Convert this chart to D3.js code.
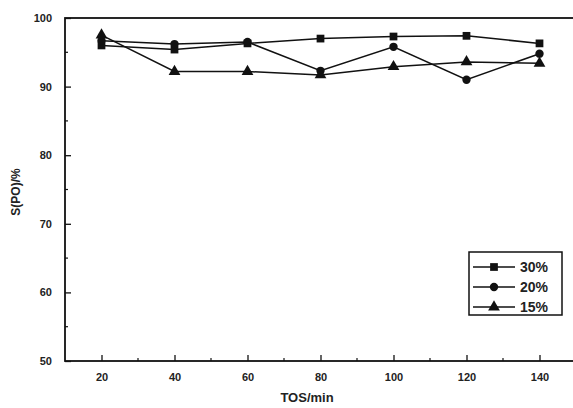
<!DOCTYPE html>
<html>
<head>
<meta charset="utf-8">
<script src="https://cdn.jsdelivr.net/npm/d3@7"></script>
<style>
  body { margin: 0; background: #fff; }
  text { font-family: Arial, "Liberation Sans", sans-serif; font-weight: bold; fill: #222; }
</style>
</head>
<body>
<script>
// data
const tos = [20, 40, 60, 80, 100, 120, 140];
const s30 = [96.0, 95.4, 96.3, 97.0, 97.3, 97.4, 96.3];
const s20 = [96.7, 96.2, 96.5, 92.3, 95.8, 91.0, 94.8];
const s15 = [97.5, 92.2, 92.2, 91.7, 92.9, 93.6, 93.4];
const seriesNames = ['30%', '20%', '15%'];
const xTicks = [20, 40, 60, 80, 100, 120, 140];
const yTicks = [50, 60, 70, 80, 90, 100];

const W = 573, H = 408;
const mLeft = 65, mRight = 576, mTop = 18, mBottom = 361;

const svg = d3.select('body').append('svg')
  .attr('width', W).attr('height', H);

const x = d3.scaleLinear().domain([10, 150]).range([mLeft, mRight]);
const y = d3.scaleLinear().domain([50, 100]).range([mBottom, mTop]);

// frame
svg.append('rect')
  .attr('x', mLeft).attr('y', mTop)
  .attr('width', mRight - mLeft).attr('height', mBottom - mTop)
  .attr('fill', 'none').attr('stroke', '#111').attr('stroke-width', 1.8);

// x axis ticks (inward)
const xAxis = d3.axisBottom(x).tickValues(xTicks).tickSize(-6).tickPadding(12)
  .tickFormat(d3.format('d'));
const gx = svg.append('g').attr('transform', `translate(0,${mBottom})`).call(xAxis);
gx.select('.domain').remove();
gx.selectAll('line').attr('stroke', '#111').attr('stroke-width', 1.3);
gx.selectAll('text').attr('font-size', 11).style('fill', '#222');
const xMinor = d3.range(30, 150, 20);
svg.append('g').selectAll('line').data(xMinor).enter().append('line')
  .attr('x1', d => x(d)).attr('x2', d => x(d))
  .attr('y1', mBottom).attr('y2', mBottom - 3)
  .attr('stroke', '#111').attr('stroke-width', 1.2);

// y axis ticks (inward)
const yAxis = d3.axisLeft(y).tickValues(yTicks).tickSize(-6).tickPadding(13);
const gy = svg.append('g').attr('transform', `translate(${mLeft},0)`).call(yAxis);
gy.select('.domain').remove();
gy.selectAll('line').attr('stroke', '#111').attr('stroke-width', 1.3);
gy.selectAll('text').attr('font-size', 11).style('fill', '#222');
const yMinor = d3.range(55, 100, 10);
svg.append('g').selectAll('line').data(yMinor).enter().append('line')
  .attr('x1', mLeft).attr('x2', mLeft + 3)
  .attr('y1', d => y(d)).attr('y2', d => y(d))
  .attr('stroke', '#111').attr('stroke-width', 1.2);

// axis titles
svg.append('text').attr('x', 307).attr('y', 402)
  .attr('text-anchor', 'middle').attr('font-size', 13).text('TOS/min');
svg.append('text').attr('transform', 'translate(20,192) rotate(-90)')
  .attr('text-anchor', 'middle').attr('font-size', 12).text('S(PO)/%');

// series
const series = [s30, s20, s15];
const shapes = [d3.symbolSquare, d3.symbolCircle, d3.symbolTriangle];
const sizes = [60, 55, 60];
const line = d3.line().x((d, i) => x(tos[i])).y(d => y(d));

series.forEach((vals, k) => {
  svg.append('path').datum(vals).attr('d', line)
    .attr('fill', 'none').attr('stroke', '#111').attr('stroke-width', 1.5);
  svg.append('g').selectAll('path').data(vals).enter().append('path')
    .attr('transform', (d, i) => `translate(${x(tos[i])},${y(d)})`)
    .attr('d', d3.symbol().type(shapes[k]).size(sizes[k]))
    .attr('fill', '#111');
});

// legend
const lg = svg.append('g');
lg.append('rect').attr('x', 469).attr('y', 252).attr('width', 93).attr('height', 63)
  .attr('fill', '#fff').attr('stroke', '#111').attr('stroke-width', 1.5);
seriesNames.forEach((name, k) => {
  const ly = 267 + k * 20;
  lg.append('line').attr('x1', 473).attr('x2', 515).attr('y1', ly).attr('y2', ly)
    .attr('stroke', '#111').attr('stroke-width', 1.5);
  lg.append('path').attr('transform', `translate(494,${ly})`)
    .attr('d', d3.symbol().type(shapes[k]).size(sizes[k]))
    .attr('fill', '#111');
  lg.append('text').attr('x', 520).attr('y', ly + 5).attr('font-size', 14).text(name);
});
</script>
</body>
</html>
